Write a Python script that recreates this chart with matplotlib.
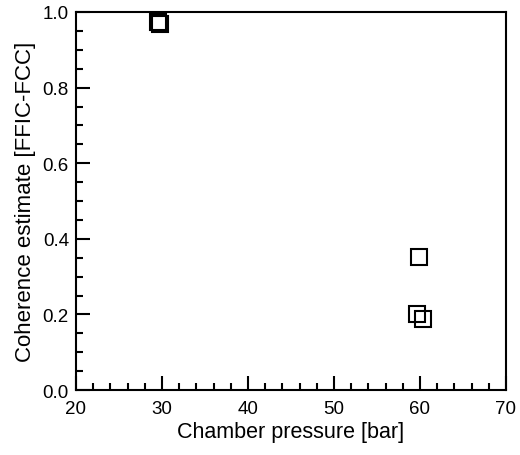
import matplotlib.pyplot as plt
from matplotlib.ticker import MultipleLocator

plt.rcParams['font.family'] = ['Liberation Sans', 'DejaVu Sans']

# chamber pressure [bar] and coherence estimate
pressure = [29.6, 29.8, 59.9, 59.7, 60.4]
coherence = [0.974, 0.968, 0.352, 0.202, 0.188]

fig = plt.figure(figsize=(5.2, 4.56), dpi=100)
ax = fig.add_axes([0.146, 0.1425, 0.827, 0.829])

ax.plot(pressure, coherence, linestyle='none', marker='s', markersize=11,
        markerfacecolor='none', markeredgecolor='black', markeredgewidth=1.5,
        clip_on=False)

ax.set_xlim(20, 70)
ax.set_ylim(0, 1.0)
ax.xaxis.set_major_locator(MultipleLocator(10))
ax.xaxis.set_minor_locator(MultipleLocator(2))
ax.yaxis.set_major_locator(MultipleLocator(0.2))
ax.yaxis.set_minor_locator(MultipleLocator(0.05))
ax.tick_params(which='both', direction='in', top=False, right=False,
               width=1.5, labelsize=13.5)
ax.tick_params(which='major', length=10)
ax.tick_params(which='minor', length=5)
ax.tick_params(axis='x', pad=7)
ax.tick_params(axis='y', pad=5)
for s in ax.spines.values():
    s.set_linewidth(1.5)

ax.set_xlabel('Chamber pressure [bar]', fontsize=15.5, labelpad=3)
ax.set_ylabel('Coherence estimate [FFIC-FCC]', fontsize=16, labelpad=5)

fig.savefig('out.png', dpi=100)
